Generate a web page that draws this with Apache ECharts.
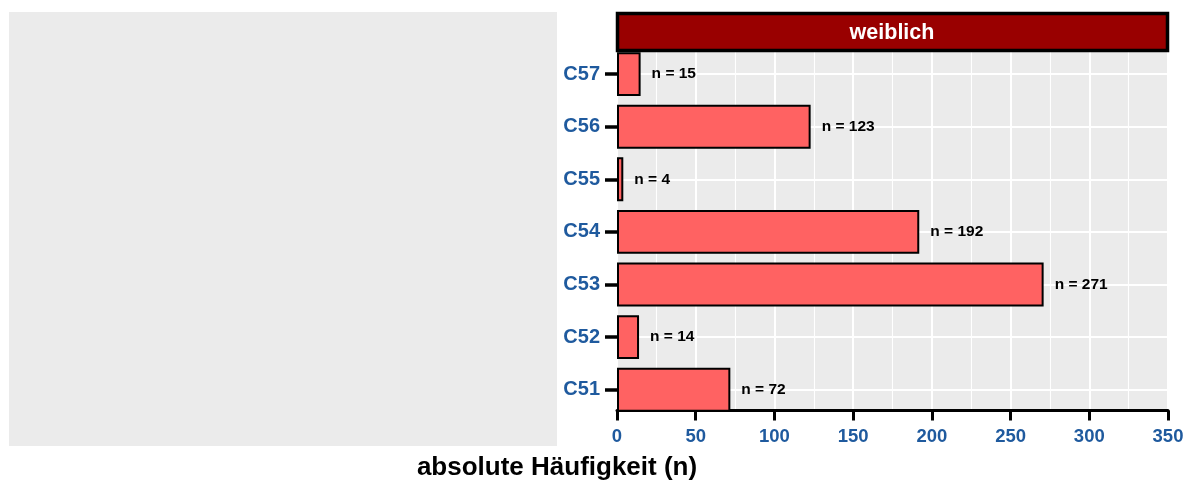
<!DOCTYPE html>
<html>
<head>
<meta charset="utf-8">
<script src="https://cdn.jsdelivr.net/npm/echarts@6/dist/echarts.min.js"></script>
<style>
html,body{margin:0;padding:0;background:#fff;}
#chart{width:1195px;height:484px;}
</style>
</head>
<body>
<div id="chart"></div>
<script>
const categories = ['C51', 'C52', 'C53', 'C54', 'C55', 'C56', 'C57'];
const counts = [72, 14, 271, 192, 4, 123, 15];
const xTicks = [0, 50, 100, 150, 200, 250, 300, 350];
const stripTitle = 'weiblich';
const xTitle = 'absolute Häufigkeit (n)';

const FONT = '"Liberation Sans", Arial, Helvetica, sans-serif';
const BLUE = '#1f5a9e';

const chart = echarts.init(document.getElementById('chart'), null, {renderer: 'canvas'});

const gridLeft = 617, gridRight = 1168;
const bandH = 52.6;
const gridTop = 47.8;
const gridH = bandH * categories.length;
const axisY = 410.5;
const gridBottomPx = gridTop + gridH;

chart.setOption({
  animation: false,
  backgroundColor: '#ffffff',
  textStyle: {fontFamily: FONT},
  grid: {
    left: gridLeft,
    right: 1195 - gridRight,
    top: gridTop,
    height: gridH,
    containLabel: false
  },
  xAxis: {
    type: 'value',
    min: xTicks[0],
    max: xTicks[xTicks.length - 1],
    interval: 50,
    offset: -(gridBottomPx - axisY),
    axisLine: {show: true, onZero: false, lineStyle: {color: '#000', width: 3}},
    axisTick: {show: true, length: 10, lineStyle: {color: '#000', width: 3}},
    axisLabel: {color: BLUE, fontWeight: 'bold', fontSize: 18.5, margin: 17, fontFamily: FONT},
    splitLine: {show: true, lineStyle: {color: '#ffffff', width: 2}},
    minorTick: {show: false, splitNumber: 2},
    minorSplitLine: {show: true, lineStyle: {color: '#ffffff', width: 1.1}}
  },
  yAxis: {
    type: 'category',
    data: categories,
    axisLine: {show: false},
    axisTick: {show: true, alignWithLabel: true, length: 12, lineStyle: {color: '#000', width: 3.5}},
    axisLabel: {color: BLUE, fontWeight: 'bold', fontSize: 20, margin: 17, fontFamily: FONT},
    splitLine: {show: false}
  },
  graphic: {
    elements: [
      {type: 'rect', z: -10, shape: {x: 9, y: 12, width: 548, height: 434}, style: {fill: '#ebebeb'}},
      {type: 'rect', z: -10, shape: {x: gridLeft, y: 52, width: gridRight - gridLeft, height: axisY - 52}, style: {fill: '#ebebeb'}},
      {type: 'rect', z: 100, shape: {x: 617.5, y: 13.5, width: 550, height: 37}, style: {fill: '#990000', stroke: '#000', lineWidth: 3.5}},
      {type: 'text', z: 101, x: 892, y: 33, style: {text: stripTitle, fill: '#fff', font: 'bold 21.5px ' + FONT, textAlign: 'center', textVerticalAlign: 'middle'}},
      {type: 'text', z: 101, x: 557, y: 468, style: {text: xTitle, fill: '#000', font: 'bold 26px ' + FONT, textAlign: 'center', textVerticalAlign: 'middle'}}
    ]
  },
  series: [
    {
      type: 'line',
      data: [],
      z: 1,
      silent: true,
      markLine: {
        silent: true,
        symbol: ['none', 'none'],
        label: {show: false},
        lineStyle: {color: '#ffffff', width: 2, type: 'solid'},
        data: categories.map(c => ({yAxis: c}))
      }
    },
    {
      type: 'bar',
      z: 5,
      data: counts,
      barWidth: '83.5%',
      itemStyle: {color: '#ff6262', borderColor: '#000', borderWidth: 2},
      label: {
        show: true,
        position: 'right',
        distance: 11,
        formatter: p => 'n = ' + p.value,
        color: '#000',
        fontWeight: 'bold',
        fontSize: 15.5,
        fontFamily: FONT
      }
    }
  ]
});
</script>
</body>
</html>
